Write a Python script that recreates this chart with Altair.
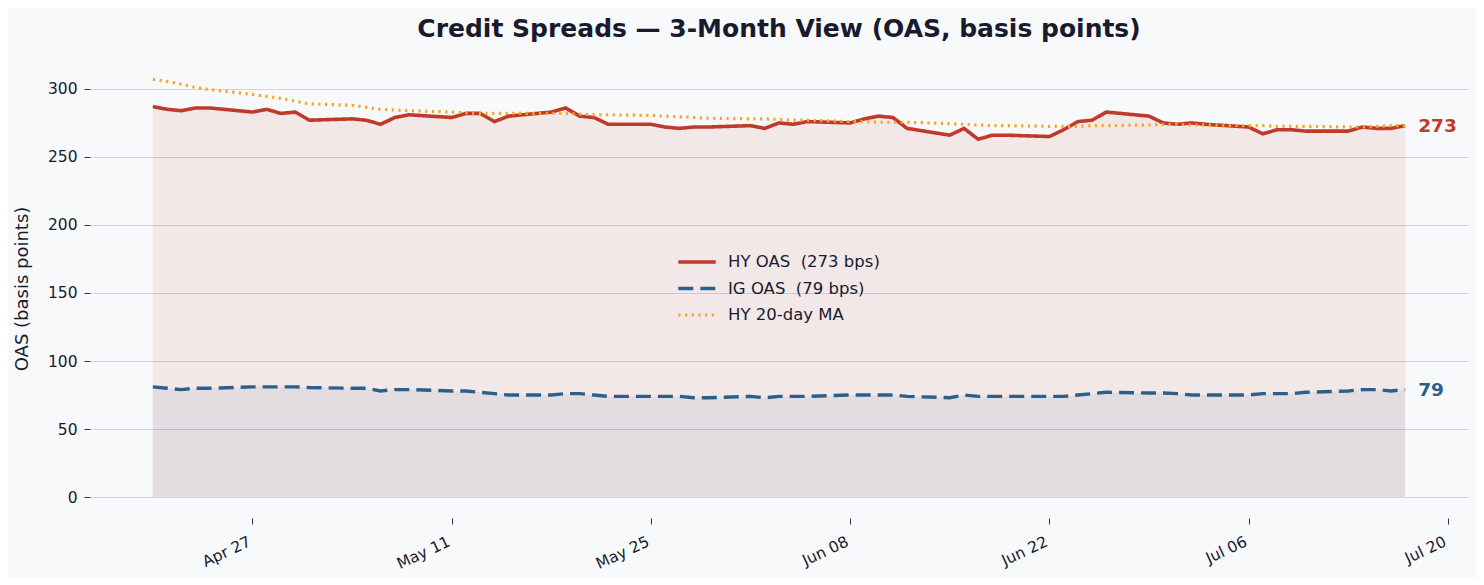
import pandas as pd
import altair as alt

# data (business days, Apr 20 - Jul 17 2026)
dates = pd.bdate_range('2026-04-20', '2026-07-17')

hy_oas = [287, 285, 284, 286, 286,
          283, 285, 282, 283, 277,
          278, 277, 274, 279, 281,
          279, 282, 282, 276, 280,
          283, 286, 280, 279, 274,
          274, 272, 271, 272, 272,
          273, 271, 275, 274, 276,
          275, 278, 280, 279, 271,
          266, 271, 263, 266, 266,
          265, 270, 276, 277, 283,
          280, 275, 274, 275, 274,
          272, 267, 270, 270, 269,
          269, 272, 271, 271, 273]

ig_oas = [81, 80, 79, 80, 80,
          81, 81, 81, 81, 80.5,
          80, 80, 78, 79, 79,
          78, 78, 77, 76, 75,
          75, 76, 76, 75, 74,
          74, 74, 74, 73, 73,
          74, 73, 74, 74, 74,
          75, 75, 75, 75, 74,
          73, 75, 74, 74, 74,
          74, 74, 75, 76, 77,
          76.5, 76.5, 76, 75, 75,
          75, 76, 76, 76, 77,
          78, 79, 79, 78, 79]

hy_ma20 = [307, 305.5, 303.5, 301, 299.5,
           296, 294.5, 293, 291, 289,
           288, 286.5, 285, 284.5, 284,
           283, 282.5, 282, 282, 282,
           282, 282, 281.5, 281, 281,
           280.5, 280, 279.5, 279, 278.5,
           278, 278, 277.5, 277, 277,
           276, 276, 275.5, 275.5, 275.5,
           274.5, 274, 273.5, 273, 273,
           272.5, 272.5, 272.5, 273, 273,
           273.5, 274, 274, 273.5, 273.5,
           273, 273, 272.5, 272.5, 272.5,
           272, 272, 272.5, 273, 273]

series_names = ['HY OAS\u00a0 (273 bps)', 'IG OAS\u00a0 (79 bps)', 'HY 20-day MA']
series_colors = ['#c0392b', '#2c5f8a', '#f5a623']
end_labels = ['273', '79']

tick_dates = ['2026-04-27', '2026-05-11', '2026-05-25', '2026-06-08',
              '2026-06-22', '2026-07-06', '2026-07-20']

wide = pd.DataFrame({'date': dates, 'hy': hy_oas, 'ig': ig_oas, 'ma': hy_ma20})
long = wide.melt('date', var_name='key', value_name='value')
long['series'] = long['key'].map(dict(zip(['hy', 'ig', 'ma'], series_names)))

last = pd.DataFrame({'date': [dates[-1]] * 2,
                     'value': [hy_oas[-1], ig_oas[-1]],
                     'label': end_labels,
                     'series': series_names[:2]})

def dt(s, hours=0):
    d = pd.Timestamp(s)
    return alt.DateTime(year=d.year, month=d.month, date=d.day, hours=hours)

x_scale = alt.Scale(domain=[dt('2026-04-15', 14), dt('2026-07-21', 10)])
y_scale = alt.Scale(domain=[-15.4, 322], nice=False, zero=False)

x_axis = alt.Axis(values=[dt(t) for t in tick_dates], format='%b %d', title=None,
                  grid=False, domain=False, tickSize=6, tickColor='#333344',
                  labelAngle=-25, labelAlign='right', labelBaseline='top',
                  labelPadding=10, labelOffset=-6, labelFontSize=15.5,
                  labelColor='#1a1a2e')
y_axis = alt.Axis(values=[0, 50, 100, 150, 200, 250, 300], title='OAS (basis points)',
                  grid=True, gridColor='#d4d4db', domain=False, tickSize=6,
                  tickColor='#333344', labelPadding=7, labelFontSize=15.5,
                  labelColor='#1a1a2e', titleFontSize=18, titleFontWeight='normal',
                  titleColor='#1a1a2e', titlePadding=16)

base = alt.Chart(wide)

hy_area = base.mark_area(color='#c0392b', opacity=0.085).encode(
    x=alt.X('date:T', scale=x_scale, axis=x_axis),
    y=alt.Y('hy:Q', scale=y_scale, axis=y_axis),
    y2=alt.datum(0)
)
ig_area = base.mark_area(color='#2c5f8a', opacity=0.08).encode(
    x='date:T',
    y='ig:Q',
    y2=alt.datum(0)
)

legend = alt.Legend(title=None, orient='none', legendX=586, legendY=193,
                    symbolType='stroke', symbolSize=1400, labelFontSize=16.5,
                    labelColor='#1a1a2e', labelOffset=10, clipHeight=20,
                    rowPadding=6.5, padding=0)

lines = alt.Chart(long).mark_line().encode(
    x='date:T',
    y='value:Q',
    color=alt.Color('series:N', scale=alt.Scale(domain=series_names, range=series_colors),
                    legend=legend),
    strokeDash=alt.StrokeDash('series:N', scale=alt.Scale(domain=series_names,
                              range=[[1, 0], [15, 7], [2.2, 4.5]]), legend=legend),
    strokeWidth=alt.StrokeWidth('series:N', scale=alt.Scale(domain=series_names,
                                range=[3.6, 3.2, 2.2]), legend=legend)
)

labels = alt.Chart(last).mark_text(align='left', baseline='middle', dx=13,
                                   fontSize=18.5, fontWeight='bold').encode(
    x='date:T',
    y='value:Q',
    text='label:N',
    color=alt.Color('series:N', scale=alt.Scale(domain=series_names, range=series_colors),
                    legend=None)
)

chart = alt.layer(hy_area, ig_area, lines, labels).properties(
    width=1378,
    height=459,
    title=alt.TitleParams('Credit Spreads — 3-Month View (OAS, basis points)',
                          fontSize=25, fontWeight='bold', color='#1a1a2e',
                          anchor='middle', offset=17),
    background='#f8f9fa',
    autosize=alt.AutoSizeParams(type='none'),
    padding={'left': 82, 'top': 51, 'right': 8, 'bottom': 60}
).configure(font='DejaVu Sans').configure_view(strokeWidth=0)

chart.save('out.html', embed_options={'renderer': 'svg', 'actions': False})
